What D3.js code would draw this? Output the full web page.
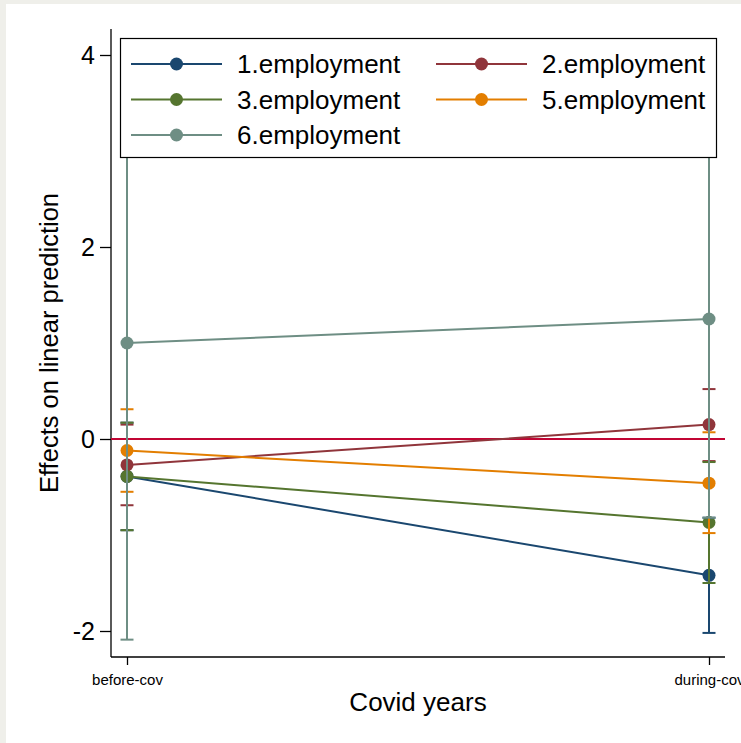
<!DOCTYPE html>
<html>
<head>
<meta charset="utf-8">
<script src="https://cdn.jsdelivr.net/npm/d3@7.9.0/dist/d3.min.js"></script>
<style>
  html, body { margin: 0; padding: 0; background: #efefea; }
  svg { display: block; font-family: "Liberation Sans", Arial, sans-serif; }
</style>
</head>
<body>
<svg id="chart" width="741" height="743"></svg>
<script>
// categories and series
const periods = ["before-cov", "during-cov"];
const groups = ["1.employment", "2.employment", "3.employment", "5.employment", "6.employment"];
const colors = ["#1a476f", "#90353b", "#55752f", "#e37e00", "#6e8e84"];

// margins, lower and upper CI per group (before-cov, during-cov)
const margin1 = [-0.39, -1.42];
const lower1  = [-0.95, -2.02];
const upper1  = [0.17, -0.82];

const margin2 = [-0.27, 0.15];
const lower2  = [-0.69, -0.23];
const upper2  = [0.15, 0.52];

const margin3 = [-0.39, -0.87];
const lower3  = [-0.95, -1.50];
const upper3  = [0.17, -0.24];

const margin5 = [-0.12, -0.46];
const lower5  = [-0.55, -0.98];
const upper5  = [0.31, 0.07];

const margin6 = [1.00, 1.25];
const lower6  = [-2.09, -0.82];
const upper6  = [4.09, 3.32];

const yTicks = [-2, 0, 2, 4];

const series = [
  { m: margin1, lo: lower1, hi: upper1 },
  { m: margin2, lo: lower2, hi: upper2 },
  { m: margin3, lo: lower3, hi: upper3 },
  { m: margin5, lo: lower5, hi: upper5 },
  { m: margin6, lo: lower6, hi: upper6 }
].map((s, i) => ({
  name: groups[i],
  color: colors[i],
  values: periods.map((p, j) => ({ period: p, m: s.m[j], lo: s.lo[j], hi: s.hi[j] }))
}));

const svg = d3.select("#chart");

// white graph region
svg.append("rect")
  .attr("x", 6).attr("y", 4)
  .attr("width", 741).attr("height", 743)
  .attr("fill", "white");

const plot = { left: 111, right: 725, top: 29, bottom: 657 };

const x = d3.scalePoint().domain(periods).range([127, 709]);
const y = d3.scaleLinear().domain([-2, 4]).range([631, 55]);

// Axes
svg.append("g")
  .attr("transform", `translate(${plot.left},0)`)
  .call(d3.axisLeft(y).tickValues(yTicks).tickSize(11).tickPadding(5).tickFormat(d => String(d)))
  .call(g => g.select(".domain").remove())
  .call(g => g.selectAll("line").attr("stroke", "#000").attr("stroke-width", 1.3))
  .call(g => g.selectAll("text").attr("font-size", 25).attr("fill", "#000")
    .attr("font-family", "Liberation Sans, Arial, sans-serif"));

svg.append("g")
  .attr("transform", `translate(0,${plot.bottom})`)
  .call(d3.axisBottom(x).tickSize(8).tickPadding(9))
  .call(g => g.select(".domain").remove())
  .call(g => g.selectAll("line").attr("stroke", "#000").attr("stroke-width", 1.3))
  .call(g => g.selectAll("text").attr("font-size", 15).attr("fill", "#000")
    .attr("font-family", "Liberation Sans, Arial, sans-serif"));

svg.append("line")
  .attr("x1", plot.left).attr("x2", plot.left)
  .attr("y1", plot.top).attr("y2", plot.bottom)
  .attr("stroke", "#000").attr("stroke-width", 1.3);
svg.append("line")
  .attr("x1", plot.left).attr("x2", plot.right)
  .attr("y1", plot.bottom).attr("y2", plot.bottom)
  .attr("stroke", "#000").attr("stroke-width", 1.3);

// Axis titles
svg.append("text")
  .attr("text-anchor", "middle")
  .attr("transform", "rotate(-90)")
  .attr("x", -343)
  .attr("y", 58)
  .attr("font-size", 25.5)
  .text("Effects on linear prediction");

svg.append("text")
  .attr("text-anchor", "middle")
  .attr("x", (plot.left + plot.right) / 2)
  .attr("y", 711)
  .attr("font-size", 26)
  .text("Covid years");

// Reference line at zero
svg.append("line")
  .attr("x1", plot.left).attr("x2", plot.right)
  .attr("y1", y(0)).attr("y2", y(0))
  .attr("stroke", "#c10534").attr("stroke-width", 2);

// Lines and markers
const line = d3.line()
  .x(d => x(d.period))
  .y(d => y(d.m));

series.forEach(s => {
  svg.append("path")
    .datum(s.values)
    .attr("fill", "none")
    .attr("stroke", s.color)
    .attr("stroke-width", 2)
    .attr("d", line);

  svg.selectAll(null)
    .data(s.values)
    .join("circle")
    .attr("cx", d => x(d.period))
    .attr("cy", d => y(d.m))
    .attr("r", 6.5)
    .attr("fill", s.color);
});

// Confidence intervals (capped)
const capW = 6.5;
series.forEach(s => {
  const ci = svg.append("g").attr("stroke", s.color).attr("stroke-width", 2);
  s.values.forEach(d => {
    const cx = x(d.period);
    ci.append("line").attr("x1", cx).attr("x2", cx).attr("y1", y(d.lo)).attr("y2", y(d.hi));
    ci.append("line").attr("x1", cx - capW).attr("x2", cx + capW).attr("y1", y(d.lo)).attr("y2", y(d.lo));
    ci.append("line").attr("x1", cx - capW).attr("x2", cx + capW).attr("y1", y(d.hi)).attr("y2", y(d.hi));
  });
});

// Legend
const legend = svg.append("g");
legend.append("rect")
  .attr("x", 120.5).attr("y", 38.5)
  .attr("width", 596).attr("height", 119)
  .attr("fill", "white")
  .attr("stroke", "#000")
  .attr("stroke-width", 1.2);

series.forEach((s, i) => {
  const col = i % 2, row = Math.floor(i / 2);
  const lx = 131 + col * 305;
  const ly = 64 + row * 35.5;
  const item = legend.append("g").attr("transform", `translate(${lx},${ly})`);
  item.append("line").attr("x1", 0).attr("x2", 91).attr("stroke", s.color).attr("stroke-width", 2);
  item.append("circle").attr("cx", 45.5).attr("r", 6.5).attr("fill", s.color);
  item.append("text").attr("x", 106).attr("y", 9).attr("font-size", 26).text(s.name);
});
</script>
</body>
</html>
